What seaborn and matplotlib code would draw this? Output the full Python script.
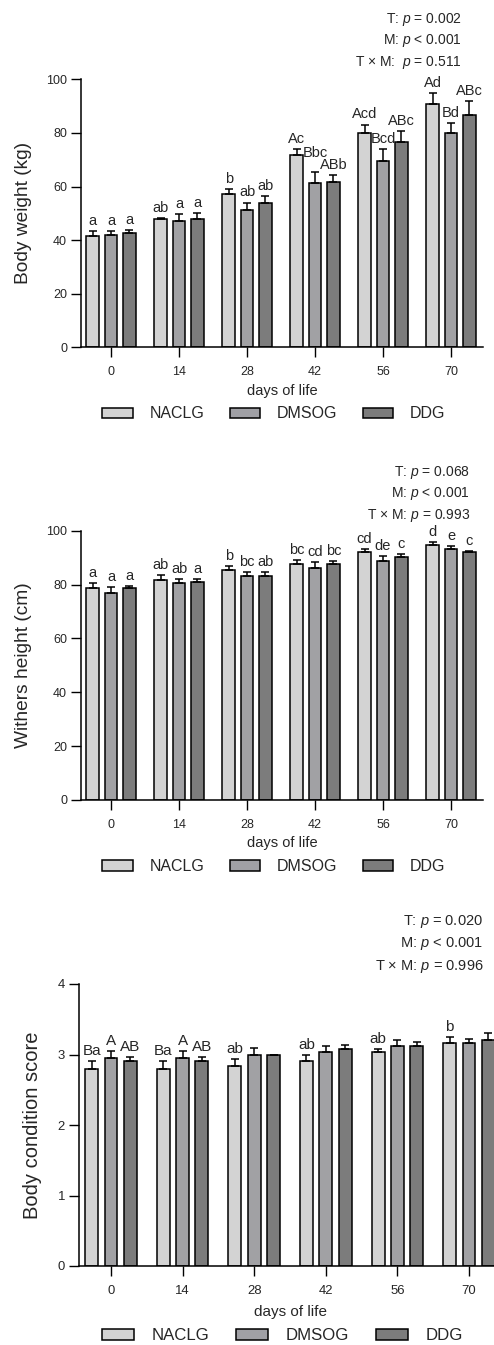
import pandas as pd
import matplotlib
matplotlib.use('Agg')
import matplotlib.pyplot as plt
import seaborn as sns
from matplotlib.patches import Patch
from matplotlib.container import BarContainer

# --- 1. DATA ---
days = ['0', '14', '28', '42', '56', '70']
groups = ['NACLG', 'DMSOG', 'DDG']
colors = ['#d3d3d3', '#a0a0a5', '#7c7c7c']

# Body weight (kg)
bw_naclg = [41.5, 48.0, 57.3, 71.9, 80.0, 90.8]
bw_naclg_sd = [1.8, 0.3, 1.9, 2.0, 3.1, 4.0]
bw_dmsog = [42.0, 47.0, 51.3, 61.4, 69.6, 80.0]
bw_dmsog_sd = [1.5, 2.6, 2.7, 4.0, 4.3, 3.7]
bw_ddg = [42.8, 47.8, 54.0, 61.8, 76.6, 86.7]
bw_ddg_sd = [1.0, 2.4, 2.5, 2.6, 4.0, 5.3]
bw_let_naclg = ['a', 'ab', 'b', 'Ac', 'Acd', 'Ad']
bw_let_dmsog = ['a', 'a', 'ab', 'Bbc', 'Bcd', 'Bd']
bw_let_ddg = ['a', 'a', 'ab', 'ABb', 'ABc', 'ABc']
bw_stats = ['T: $p$ = 0.002', 'M: $p$ < 0.001', 'T × M:  $p$ = 0.511']

# Withers height (cm)
wh_naclg = [78.6, 81.8, 85.4, 87.5, 92.1, 94.6]
wh_naclg_sd = [1.9, 1.6, 1.5, 1.6, 1.1, 1.3]
wh_dmsog = [76.9, 80.5, 83.2, 86.3, 88.9, 93.1]
wh_dmsog_sd = [2.1, 1.6, 1.6, 2.2, 1.7, 1.1]
wh_ddg = [78.6, 81.0, 83.3, 87.5, 90.4, 92.1]
wh_ddg_sd = [1.0, 1.2, 1.2, 1.1, 0.9, 0.5]
wh_let_naclg = ['a', 'ab', 'b', 'bc', 'cd', 'd']
wh_let_dmsog = ['a', 'ab', 'bc', 'cd', 'de', 'e']
wh_let_ddg = ['a', 'a', 'ab', 'bc', 'c', 'c']
wh_stats = ['T: $p$ = 0.068', 'M: $p$ < 0.001', 'T × M: $p$ = 0.993']

# Body condition score
bcs_naclg = [2.79, 2.79, 2.83, 2.91, 3.04, 3.16]
bcs_naclg_sd = [0.12, 0.12, 0.11, 0.085, 0.04, 0.09]
bcs_dmsog = [2.955, 2.955, 2.99, 3.04, 3.12, 3.16]
bcs_dmsog_sd = [0.10, 0.10, 0.10, 0.08, 0.09, 0.06]
bcs_ddg = [2.91, 2.91, 3.0, 3.08, 3.12, 3.21]
bcs_ddg_sd = [0.06, 0.06, 0.0, 0.06, 0.06, 0.10]
bcs_let_naclg = ['Ba', 'Ba', 'ab', 'ab', 'ab', 'b']
bcs_let_dmsog = ['A', 'A', '', '', '', '']
bcs_let_ddg = ['AB', 'AB', '', '', '', '']
bcs_stats = ['T: $p$ = 0.020', 'M: $p$ < 0.001', 'T × M: $p$ = 0.996']

# --- 2. STYLE ---
sns.set_style('ticks')
plt.rcParams['font.family'] = ['Liberation Sans', 'DejaVu Sans']
plt.rcParams['mathtext.fontset'] = 'custom'
plt.rcParams['mathtext.rm'] = 'Liberation Sans'
plt.rcParams['mathtext.it'] = 'Liberation Sans:italic'

W, H = 494, 1345
fig = plt.figure(figsize=(W / 100, H / 100), dpi=100)


def long_table(means, sds, letters):
    rows = []
    for g, m, s, l in zip(groups, means, sds, letters):
        for d, mv, sv, lv in zip(days, m, s, l):
            rows.append({'day': d, 'group': g, 'value': mv, 'sd': sv, 'letter': lv})
    return pd.DataFrame(rows)


def draw_panel(df, ylabel, ylim, yticks, stats, geo, scale=1.0, raise_px=None):
    left, bottom, top, x0, step = geo['left'], geo['bottom'], geo['top'], geo['x0'], geo['step']
    xmin = -(x0 - left) / step
    xmax = 5.47
    right = x0 + xmax * step
    ax = fig.add_axes([left / W, 1 - bottom / H, (right - left) / W, (bottom - top) / H])

    sns.barplot(data=df, x='day', y='value', hue='group', order=days, hue_order=groups,
                palette=colors, errorbar=None, width=0.81, gap=0.33,
                edgecolor='black', linewidth=1.1, legend=False, ax=ax)

    # upper-only error bars + letters
    bars = [c for c in ax.containers if isinstance(c, BarContainer)]
    for gi, cont in enumerate(bars):
        sub = df[df['group'] == groups[gi]].set_index('day').loc[days]
        xs = [b.get_x() + b.get_width() / 2 for b in cont]
        hs = [b.get_height() for b in cont]
        ax.errorbar(xs, hs, yerr=[[0] * len(hs), sub['sd'].values], fmt='none',
                    ecolor='black', elinewidth=1.1, capsize=3.2, capthick=1.1, zorder=1)
        for j, (x, h, s, lab) in enumerate(zip(xs, hs, sub['sd'].values, sub['letter'].values)):
            if not lab:
                continue
            extra = (raise_px or {}).get((gi, j), 0)
            ax.annotate(lab, (x, h + s), xytext=(0, 4.4 + extra * 0.72), textcoords='offset points',
                        ha='center', va='baseline', fontsize=10.5 * scale)

    ax.set_xlim(xmin, xmax)
    ax.set_ylim(*ylim)
    ax.set_yticks(yticks)
    sns.despine(ax=ax)
    for sp in ['left', 'bottom']:
        ax.spines[sp].set_linewidth(1.1)
        ax.spines[sp].set_color('black')
    ax.tick_params(axis='both', direction='out', length=7, width=1.0, color='black',
                   labelsize=9 * scale)
    ax.tick_params(axis='x', pad=6.5)
    ax.tick_params(axis='y', pad=3)

    ax_h = bottom - top
    ax_w = right - left
    ax.set_xlabel('days of life', fontsize=10.5 * scale)
    ax.xaxis.label.set_va('center')
    ax.xaxis.set_label_coords(0.5, -geo['xlab'] / ax_h)
    ax.set_ylabel(ylabel, fontsize=13.8 * scale)
    ax.yaxis.label.set_va('center')
    ax.yaxis.set_label_coords((geo['ylab'] - left) / ax_w, 0.5)

    # p-values top right
    for txt, yy in zip(stats, geo['stats_y']):
        fig.text(geo['stats_x'] / W, 1 - yy / H, txt, ha='right', va='center', fontsize=10 * scale)

    handles = [Patch(facecolor=c, edgecolor='black', linewidth=1.1) for c in colors]
    fig.legend(handles, groups, loc='center', ncol=3, frameon=False,
               bbox_to_anchor=(geo['leg'][0] / W, 1 - geo['leg'][1] / H),
               fontsize=11.5 * scale, handlelength=1.9, handleheight=0.65,
               handletextpad=1.05, columnspacing=1.6)
    return ax


# --- 3. PANELS ---
draw_panel(long_table([bw_naclg, bw_dmsog, bw_ddg], [bw_naclg_sd, bw_dmsog_sd, bw_ddg_sd],
                      [bw_let_naclg, bw_let_dmsog, bw_let_ddg]),
           'Body weight (kg)', (0, 100), range(0, 101, 20), bw_stats,
           dict(left=81, bottom=347.3, top=79.3, x0=111, step=68, xlab=43.7, ylab=23.5,
                stats_x=461.7, stats_y=[19.3, 40.7, 62.7], leg=(274, 414)),
           raise_px={(1, 3): 9})

draw_panel(long_table([wh_naclg, wh_dmsog, wh_ddg], [wh_naclg_sd, wh_dmsog_sd, wh_ddg_sd],
                      [wh_let_naclg, wh_let_dmsog, wh_let_ddg]),
           'Withers height (cm)', (0, 100), range(0, 101, 20), wh_stats,
           dict(left=81, bottom=800, top=530.7, x0=111, step=68, xlab=43.3, ylab=23.5,
                stats_x=470, stats_y=[472.3, 493.3, 515.7], leg=(274, 866.7)))

draw_panel(long_table([bcs_naclg, bcs_dmsog, bcs_ddg], [bcs_naclg_sd, bcs_dmsog_sd, bcs_ddg_sd],
                      [bcs_let_naclg, bcs_let_dmsog, bcs_let_ddg]),
           'Body condition score', (0, 4), range(0, 5), bcs_stats,
           dict(left=79, bottom=1266, top=984, x0=111, step=71.6, xlab=45.7, ylab=32.5,
                stats_x=483.3, stats_y=[921.7, 944, 966.7], leg=(282.5, 1336)),
           scale=1.05)

fig.savefig('out.png', dpi=100)
print('saved out.png')
